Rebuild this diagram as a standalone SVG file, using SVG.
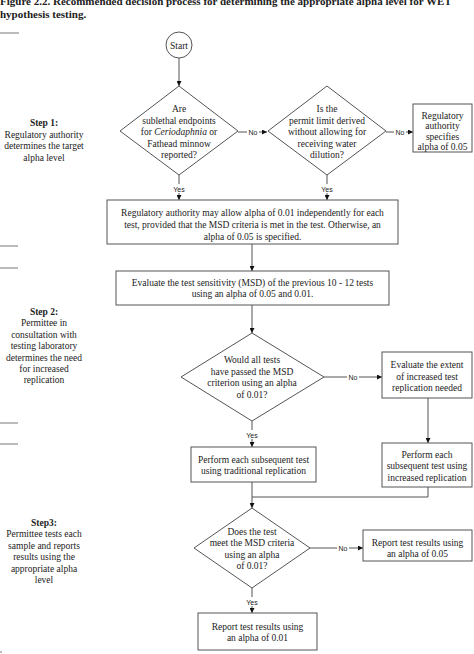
<svg xmlns="http://www.w3.org/2000/svg" width="474" height="654" viewBox="0 0 474 654">
<style>
.t{font-family:"Liberation Serif","Times New Roman",serif;font-size:9.5px;fill:#222;text-anchor:middle}
.b{font-weight:bold}
.ttl{font-family:"Liberation Serif","Times New Roman",serif;font-size:11px;font-weight:bold;fill:#222}
.lbl{font-family:"Liberation Sans",Arial,sans-serif;font-size:7px;fill:#222;text-anchor:middle}
.s{fill:#fff;stroke:#555;stroke-width:1}
.c{fill:none;stroke:#555;stroke-width:1}
.sep{stroke:#777;stroke-width:1}
</style>
<defs>
<marker id="ah" viewBox="0 0 8 8" refX="8" refY="4" markerWidth="5" markerHeight="5" orient="auto" markerUnits="userSpaceOnUse">
<path d="M0,0 L8,4 L0,8 Z" fill="#111"/>
</marker>
</defs>
<rect width="474" height="654" fill="#fff"/>

<g id="title">
<text class="ttl" x="0" y="5">Figure 2.2.  Recommended decision process for determining the appropriate alpha level for WET</text>
<text class="ttl" x="0" y="18">hypothesis testing.</text>
</g>

<g id="separators">
<line class="sep" x1="0" y1="33" x2="19" y2="33"/>
<line class="sep" x1="0" y1="246" x2="18" y2="246"/>
<line class="sep" x1="0" y1="268" x2="18" y2="268"/>
<line class="sep" x1="0" y1="423" x2="18" y2="423"/>
<line class="sep" x1="0" y1="444" x2="18" y2="444"/>
<line class="sep" x1="0" y1="652" x2="2" y2="652"/>
</g>

<g id="step1">
<text class="t" x="44" y="126"><tspan class="b">Step 1:</tspan><tspan x="44" dy="11.5">Regulatory authority</tspan><tspan x="44" dy="11.5">determines the target</tspan><tspan x="44" dy="11.5">alpha level</tspan></text>
</g>
<g id="step2">
<text class="t" x="44" y="315"><tspan class="b">Step 2:</tspan><tspan x="44" dy="11.4">Permittee in</tspan><tspan x="44" dy="11.4">consultation with</tspan><tspan x="44" dy="11.4">testing laboratory</tspan><tspan x="44" dy="11.4">determines the need</tspan><tspan x="44" dy="11.4">for increased</tspan><tspan x="44" dy="11.4">replication</tspan></text>
</g>
<g id="step3">
<text class="t" x="44" y="526"><tspan class="b">Step3:</tspan><tspan x="44" dy="11.4">Permittee tests each</tspan><tspan x="44" dy="11.4">sample and reports</tspan><tspan x="44" dy="11.4">results using the</tspan><tspan x="44" dy="11.4">appropriate alpha</tspan><tspan x="44" dy="11.4">level</tspan></text>
</g>

<g id="connectors">
<line class="c" x1="179" y1="58" x2="179" y2="86" marker-end="url(#ah)"/>
<line class="c" x1="238" y1="132" x2="247" y2="132"/>
<line class="c" x1="259" y1="132" x2="267" y2="132" marker-end="url(#ah)"/>
<line class="c" x1="386" y1="132" x2="394" y2="132"/>
<line class="c" x1="406" y1="132" x2="413" y2="132" marker-end="url(#ah)"/>
<line class="c" x1="179" y1="175" x2="179" y2="184"/>
<line class="c" x1="179" y1="193" x2="179" y2="200" marker-end="url(#ah)"/>
<line class="c" x1="327" y1="175" x2="327" y2="184"/>
<line class="c" x1="327" y1="193" x2="327" y2="200" marker-end="url(#ah)"/>
<line class="c" x1="252" y1="244" x2="252" y2="271" marker-end="url(#ah)"/>
<line class="c" x1="252" y1="305" x2="252" y2="333" marker-end="url(#ah)"/>
<line class="c" x1="324" y1="377" x2="347" y2="377"/>
<line class="c" x1="359" y1="377" x2="382" y2="377" marker-end="url(#ah)"/>
<line class="c" x1="428" y1="398" x2="428" y2="443" marker-end="url(#ah)"/>
<line class="c" x1="252" y1="421" x2="252" y2="430"/>
<line class="c" x1="252" y1="439" x2="252" y2="447" marker-end="url(#ah)"/>
<line class="c" x1="252" y1="482" x2="252" y2="508" marker-end="url(#ah)"/>
<polyline class="c" points="428,487 428,497 252,497"/>
<line class="c" x1="310" y1="548" x2="337" y2="548"/>
<line class="c" x1="349" y1="548" x2="363" y2="548" marker-end="url(#ah)"/>
<line class="c" x1="252" y1="588" x2="252" y2="597"/>
<line class="c" x1="252" y1="606" x2="252" y2="613" marker-end="url(#ah)"/>
<text class="lbl" x="253" y="134.5">No</text>
<text class="lbl" x="400" y="134.5">No</text>
<text class="lbl" x="179" y="191.5">Yes</text>
<text class="lbl" x="327" y="191.5">Yes</text>
<text class="lbl" x="353" y="379.5">No</text>
<text class="lbl" x="252" y="437.5">Yes</text>
<text class="lbl" x="343" y="550.5">No</text>
<text class="lbl" x="252" y="604.5">Yes</text>
</g>

<g id="start">
<circle class="s" cx="179" cy="45" r="13"/>
<text class="t" x="179" y="48.5">Start</text>
</g>

<g id="q-sublethal">
<polygon class="s" points="179,86 238,131 179,175 120,131"/>
<text class="t" x="179" y="112"><tspan>Are</tspan><tspan x="179" dy="11.5">sublethal endpoints</tspan><tspan x="179" dy="11.5">for <tspan font-style="italic">Ceriodaphnia</tspan> or</tspan><tspan x="179" dy="11.5">Fathead minnow</tspan><tspan x="179" dy="11.5">reported?</tspan></text>
</g>

<g id="q-permit">
<polygon class="s" points="327,86 386,131 327,175 268,131"/>
<text class="t" x="327" y="112"><tspan>Is the</tspan><tspan x="327" dy="11.5">permit limit derived</tspan><tspan x="327" dy="11.5">without allowing for</tspan><tspan x="327" dy="11.5">receiving water</tspan><tspan x="327" dy="11.5">dilution?</tspan></text>
</g>

<g id="box-specifies">
<rect class="s" x="413" y="104" width="59" height="48"/>
<text class="t" x="442.5" y="118.5"><tspan>Regulatory</tspan><tspan x="442.5" dy="10.6">authority</tspan><tspan x="442.5" dy="10.6">specifies</tspan><tspan x="442.5" dy="10.6">alpha of 0.05</tspan></text>
</g>

<g id="box-allow">
<rect class="s" x="107" y="200" width="291" height="44"/>
<text class="t" x="252.5" y="216"><tspan>Regulatory authority may allow alpha of 0.01 independently for each</tspan><tspan x="252.5" dy="12">test, provided that the MSD criteria is met in the test.  Otherwise, an</tspan><tspan x="252.5" dy="12">alpha of 0.05 is specified.</tspan></text>
</g>

<g id="box-evaluate">
<rect class="s" x="116" y="271" width="273" height="34"/>
<text class="t" x="252.5" y="286"><tspan>Evaluate the test sensitivity (MSD) of the previous 10 - 12 tests</tspan><tspan x="252.5" dy="10.8">using an alpha of 0.05 and 0.01.</tspan></text>
</g>

<g id="q-passed">
<polygon class="s" points="252,333 324,377 252,421 181,377"/>
<text class="t" x="252" y="363"><tspan>Would all tests</tspan><tspan x="252" dy="11.5">have passed the MSD</tspan><tspan x="252" dy="11.5">criterion using an alpha</tspan><tspan x="252" dy="11.5">of 0.01?</tspan></text>
</g>

<g id="box-extent">
<rect class="s" x="382" y="352" width="90" height="46"/>
<text class="t" x="427" y="368"><tspan>Evaluate the extent</tspan><tspan x="427" dy="11.5">of increased test</tspan><tspan x="427" dy="11.5">replication needed</tspan></text>
</g>

<g id="box-traditional">
<rect class="s" x="191" y="447" width="125" height="35"/>
<text class="t" x="253.5" y="463"><tspan>Perform each subsequent test</tspan><tspan x="253.5" dy="11.2">using traditional replication</tspan></text>
</g>

<g id="box-increased">
<rect class="s" x="382" y="443" width="90" height="44"/>
<text class="t" x="427" y="457.5"><tspan>Perform each</tspan><tspan x="427" dy="11.5">subsequent test using</tspan><tspan x="427" dy="11.5">increased replication</tspan></text>
</g>

<g id="q-meet">
<polygon class="s" points="252,508 310,548 252,588 194,548"/>
<text class="t" x="252" y="535"><tspan>Does the test</tspan><tspan x="252" dy="11.4">meet the MSD criteria</tspan><tspan x="252" dy="11.4">using an alpha</tspan><tspan x="252" dy="11.4">of 0.01?</tspan></text>
</g>

<g id="box-report05">
<rect class="s" x="363" y="530" width="109" height="31"/>
<text class="t" x="417.5" y="546"><tspan>Report test results using</tspan><tspan x="417.5" dy="11">an alpha of 0.05</tspan></text>
</g>

<g id="box-report01">
<rect class="s" x="198" y="613" width="119" height="37"/>
<text class="t" x="257.5" y="629.5"><tspan>Report test results using</tspan><tspan x="257.5" dy="11">an alpha of 0.01</tspan></text>
</g>
</svg>
